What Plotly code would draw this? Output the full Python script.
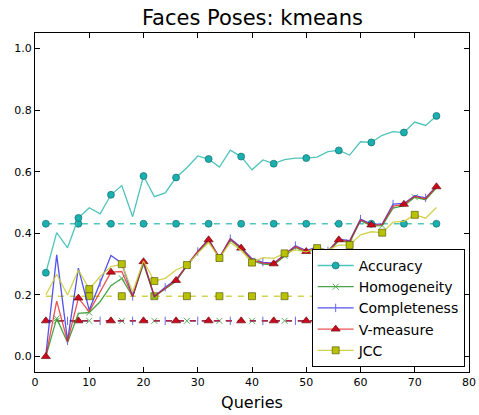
import plotly.graph_objects as go

queries = list(range(2, 76, 2))

accuracy = [0.272, 0.402, 0.353, 0.450, 0.483, 0.463, 0.525, 0.555, 0.454, 0.586,
            0.519, 0.531, 0.581, 0.613, 0.651, 0.641, 0.615, 0.670, 0.649, 0.606,
            0.638, 0.626, 0.639, 0.644, 0.644, 0.647, 0.665, 0.669, 0.654, 0.697,
            0.695, 0.718, 0.730, 0.727, 0.761, 0.750, 0.781]
homogeneity = [0.000, 0.124, 0.046, 0.140, 0.143, 0.178, 0.230, 0.254, 0.195, 0.300,
               0.195, 0.219, 0.244, 0.294, 0.338, 0.376, 0.318, 0.378, 0.349, 0.311,
               0.300, 0.298, 0.327, 0.354, 0.338, 0.351, 0.338, 0.376, 0.370, 0.441,
               0.424, 0.425, 0.482, 0.490, 0.517, 0.509, 0.548]
completeness = [0.005, 0.330, 0.051, 0.287, 0.151, 0.240, 0.328, 0.303, 0.195, 0.308,
                0.195, 0.225, 0.250, 0.295, 0.341, 0.381, 0.321, 0.383, 0.354, 0.318,
                0.306, 0.303, 0.333, 0.360, 0.344, 0.356, 0.343, 0.381, 0.376, 0.446,
                0.430, 0.430, 0.495, 0.497, 0.522, 0.515, 0.553]
vmeasure = [0.000, 0.180, 0.049, 0.190, 0.146, 0.211, 0.274, 0.276, 0.195, 0.308,
            0.195, 0.222, 0.247, 0.297, 0.341, 0.379, 0.321, 0.381, 0.352, 0.314,
            0.303, 0.301, 0.330, 0.357, 0.341, 0.354, 0.341, 0.379, 0.373, 0.444,
            0.427, 0.428, 0.488, 0.494, 0.520, 0.512, 0.551]
jcc = [0.200, 0.267, 0.200, 0.281, 0.219, 0.260, 0.292, 0.300, 0.210, 0.310,
       0.245, 0.254, 0.281, 0.297, 0.335, 0.370, 0.320, 0.370, 0.345, 0.305,
       0.321, 0.319, 0.335, 0.346, 0.340, 0.352, 0.346, 0.362, 0.362, 0.395,
       0.405, 0.402, 0.436, 0.439, 0.460, 0.449, 0.484]

baseline_accuracy = 0.431
baseline_cluster = 0.116
baseline_jcc = 0.196

series_names = ["Accuracy", "Homogeneity", "Completeness", "V-measure", "JCC"]

styles = {
    "Accuracy": dict(line="rgba(60,190,180,0.9)", face="#1bb0b0", edge="#0b5f5f",
                     symbol="circle", size=7, start=0, lw=0.6),
    "Homogeneity": dict(line="rgba(40,150,40,0.85)", face="#5aae5a", edge="#5aae5a",
                        symbol="x-thin", size=6, start=1, lw=1.0),
    "Completeness": dict(line="rgba(40,40,230,0.8)", face="#6a6ae8", edge="#6a6ae8",
                         symbol="line-ns", size=6, start=2, lw=1.0),
    "V-measure": dict(line="rgba(225,25,25,0.75)", face="#cc0a1e", edge="#5a0000",
                      symbol="triangle-up", size=8, start=0, lw=0.6),
    "JCC": dict(line="rgba(205,205,60,0.9)", face="#b8c200", edge="#4a4a00",
                symbol="square", size=7, start=4, lw=0.6),
}

values = {"Accuracy": accuracy, "Homogeneity": homogeneity,
          "Completeness": completeness, "V-measure": vmeasure, "JCC": jcc}
baselines = {"Accuracy": baseline_accuracy, "Homogeneity": baseline_cluster,
             "Completeness": baseline_cluster, "V-measure": baseline_cluster,
             "JCC": baseline_jcc}

fig = go.Figure()


def marker_dict(st):
    return dict(symbol=st["symbol"], size=st["size"], color=st["face"],
                line=dict(color=st["edge"], width=st["lw"]))


# baselines (dashed)
for name in series_names:
    st = styles[name]
    bx = queries
    by = [baselines[name]] * len(queries)
    fig.add_trace(go.Scatter(x=bx, y=by, mode="lines", showlegend=False,
                             line=dict(color=st["line"], width=1.5, dash="6px,6px"),
                             hoverinfo="skip"))
    mx = bx[st["start"]::3]
    my = by[st["start"]::3]
    fig.add_trace(go.Scatter(x=mx, y=my, mode="markers", showlegend=False,
                             marker=marker_dict(st), hoverinfo="skip"))

# main curves
for name in series_names:
    st = styles[name]
    ys = values[name]
    fig.add_trace(go.Scatter(x=queries, y=ys, mode="lines", showlegend=False,
                             line=dict(color=st["line"], width=1.3)))
    fig.add_trace(go.Scatter(x=queries[st["start"]::3], y=ys[st["start"]::3],
                             mode="markers", showlegend=False,
                             marker=marker_dict(st)))

# legend entries
for name in series_names:
    st = styles[name]
    fig.add_trace(go.Scatter(x=[None], y=[None], mode="lines+markers", name=name,
                             line=dict(color=st["line"], width=1.3),
                             marker=marker_dict(st)))

axis_common = dict(showline=True, linecolor="black", linewidth=1, mirror="ticks",
                   ticks="inside", ticklen=5, tickcolor="black", showgrid=False,
                   zeroline=False, automargin=False,
                   tickfont=dict(family="DejaVu Sans", size=11, color="black"))

fig.update_layout(
    width=479, height=415,
    margin=dict(l=35, r=10, t=33, b=43),
    paper_bgcolor="white", plot_bgcolor="white",
    title=dict(text="Faces Poses: kmeans", x=0.527, xanchor="center", y=0.958,
               yanchor="middle", font=dict(family="DejaVu Sans", size=21, color="black")),
    xaxis=dict(range=[0, 80], dtick=10, tick0=0,
               title=dict(text="Queries", standoff=8,
                          font=dict(family="DejaVu Sans", size=16, color="black")),
               **axis_common),
    yaxis=dict(range=[-0.05, 1.05], tickvals=[0.0, 0.2, 0.4, 0.6, 0.8, 1.0],
               tickformat=".1f", **axis_common),
    legend=dict(x=0.99, y=0.015, xanchor="right", yanchor="bottom",
                bgcolor="white", bordercolor="black", borderwidth=1,
                font=dict(family="DejaVu Sans", size=14, color="black"),
                tracegroupgap=0, itemwidth=36),
    showlegend=True,
)

fig.write_html("out.html")
